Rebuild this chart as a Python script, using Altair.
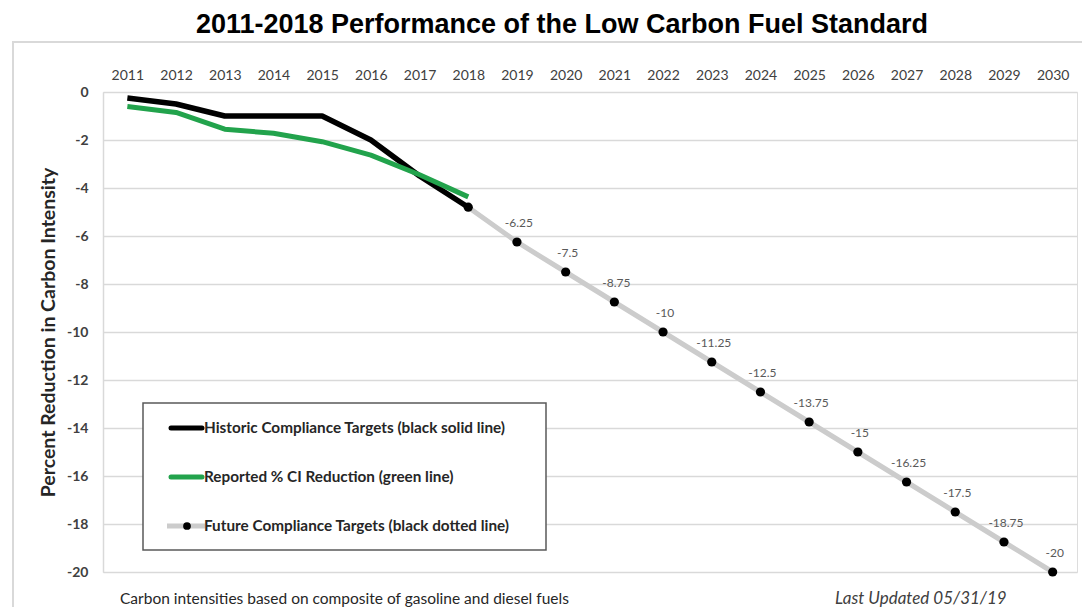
import altair as alt
import pandas as pd

years = [str(y) for y in range(2011, 2031)]

hist_years = ["2011", "2012", "2013", "2014", "2015", "2016", "2017", "2018"]
hist_vals = [-0.25, -0.5, -1.0, -1.0, -1.0, -2.0, -3.5, -4.8]

reported_years = ["2011", "2012", "2013", "2014", "2015", "2016", "2017", "2018"]
reported_vals = [-0.6, -0.85, -1.55, -1.72, -2.07, -2.63, -3.45, -4.37]

future_years = ["2018", "2019", "2020", "2021", "2022", "2023", "2024", "2025",
                "2026", "2027", "2028", "2029", "2030"]
future_vals = [-4.8, -6.25, -7.5, -8.75, -10, -11.25, -12.5, -13.75,
               -15, -16.25, -17.5, -18.75, -20]
future_labels = ["", "-6.25", "-7.5", "-8.75", "-10", "-11.25", "-12.5", "-13.75",
                 "-15", "-16.25", "-17.5", "-18.75", "-20"]

y_ticks = list(range(-20, 1, 2))

legend_labels = ["Historic Compliance Targets (black solid line)",
                 "Reported % CI Reduction (green line)",
                 "Future Compliance Targets (black dotted line)"]

title_text = "2011-2018 Performance of the Low Carbon Fuel Standard"
y_title = "Percent Reduction in Carbon Intensity"
note_left = "Carbon intensities based on composite of gasoline and diesel fuels"
note_right = "Last Updated 05/31/19"

df_hist = pd.DataFrame({"year": hist_years, "value": hist_vals})
df_rep = pd.DataFrame({"year": reported_years, "value": reported_vals})
df_fut = pd.DataFrame({"year": future_years, "value": future_vals, "label": future_labels})

FONT = "Lato"
GRID = "#d9d9d9"

X = alt.X("year:O", scale=alt.Scale(domain=years),
          axis=alt.Axis(orient="top", title=None, ticks=False, domain=False, grid=False,
                        labelAngle=0, labelFont=FONT, labelFontSize=14, labelColor="#404040",
                        labelPadding=10))
Y = alt.Y("value:Q", scale=alt.Scale(domain=[-20, 0], nice=False, zero=False),
          axis=alt.Axis(values=y_ticks, title=y_title, titleFont=FONT, titleFontSize=19.5,
                        titleFontWeight="bold", titleColor="#262626", titlePadding=8,
                        labelFont=FONT, labelFontSize=14, labelFontWeight="bold",
                        labelColor="#404040", labelPadding=15, ticks=False,
                        labelExpr="replace(datum.label, '\u2212', '-')",
                        grid=True, gridColor=GRID, gridWidth=1.5,
                        domain=True, domainColor=GRID, domainWidth=1.5))

one = alt.Data(values=[{}])

frame = alt.Chart(one).mark_rect(filled=False, stroke=GRID, strokeWidth=2).encode(
    x=alt.value(-90), x2=alt.value(980), y=alt.value(-50), y2=alt.value(560))

title = alt.Chart(one).mark_text(text=title_text, font="Liberation Sans Narrow, Liberation Sans",
                                 fontSize=27, fontWeight="bold", color="#000000",
                                 align="center", baseline="middle").encode(
    x=alt.value(459), y=alt.value(-67))

hist = alt.Chart(df_hist).mark_line(color="#000000", strokeWidth=5.5, strokeJoin="round").encode(x=X, y=Y)
rep = alt.Chart(df_rep).mark_line(color="#22a34c", strokeWidth=5, strokeJoin="round").encode(x=X, y=Y)
fut_line = alt.Chart(df_fut).mark_line(color="#cccccc", strokeWidth=5).encode(x=X, y=Y)
fut_pts = alt.Chart(df_fut).mark_point(filled=True, color="#000000", size=85, opacity=1).encode(x=X, y=Y)
fut_txt = alt.Chart(df_fut).mark_text(font=FONT, fontSize=12, color="#595959", dy=-19, dx=2).encode(
    x=X, y=Y, text="label:N")

# legend box
leg_box = alt.Chart(one).mark_rect(fill="white", stroke="#595959", strokeWidth=1.5).encode(
    x=alt.value(40), x2=alt.value(443), y=alt.value(311), y2=alt.value(458))
leg1 = alt.Chart(one).mark_rule(color="#000000", strokeWidth=5, strokeCap="round").encode(
    x=alt.value(68), x2=alt.value(99), y=alt.value(336))
leg2 = alt.Chart(one).mark_rule(color="#22a34c", strokeWidth=5, strokeCap="round").encode(
    x=alt.value(68), x2=alt.value(99), y=alt.value(385))
leg3 = alt.Chart(one).mark_rule(color="#cccccc", strokeWidth=5).encode(
    x=alt.value(64), x2=alt.value(102), y=alt.value(434))
leg3p = alt.Chart(one).mark_point(filled=True, color="#000000", size=60, opacity=1).encode(
    x=alt.value(84), y=alt.value(434))
leg_t = []
for lbl, yy in zip(legend_labels, [336, 385, 434]):
    leg_t.append(alt.Chart(one).mark_text(text=lbl, font=FONT, fontSize=15.3, fontWeight="bold",
                                          color="#262626", align="left", baseline="middle").encode(
        x=alt.value(101), y=alt.value(yy)))

note1 = alt.Chart(one).mark_text(text=note_left, font=FONT, fontSize=15.5, color="#262626",
                                 align="left", baseline="middle").encode(
    x=alt.value(17), y=alt.value(507))
note2 = alt.Chart(one).mark_text(text=note_right, font=FONT, fontSize=17, fontStyle="italic",
                                 color="#404040", align="left", baseline="middle").encode(
    x=alt.value(732), y=alt.value(507))

chart = alt.layer(frame, title, hist, rep, fut_line, fut_pts, fut_txt, leg_box, leg1, leg2, leg3,
                  leg3p, *leg_t, note1, note2).properties(
    width=974, height=480,
    padding={"left": 95, "top": 84, "right": 5, "bottom": 35},
    autosize="none",
).configure_view(strokeWidth=0).configure(background="white")

chart.save("out.html", embed_options={"renderer": "svg", "actions": False})
